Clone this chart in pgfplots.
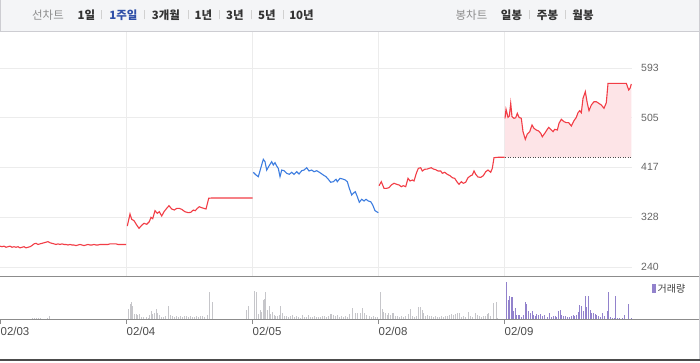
\documentclass[border=0pt]{standalone}
\usepackage{pgfplots}
\pgfplotsset{compat=1.18}
\usepackage{fontspec}
\setmainfont{Liberation Sans}
\newfontfamily\kr{Noto Sans CJK KR}
\definecolor{upred}{HTML}{F23D46}
\definecolor{dnblue}{HTML}{3D7DE0}
\definecolor{pinkfill}{HTML}{FDE4E7}
\definecolor{gridc}{HTML}{ECECEC}
\definecolor{volgray}{HTML}{C6C6CA}
\definecolor{volpur}{HTML}{9282CC}
\definecolor{barbg}{HTML}{F4F5F7}
\definecolor{barline}{HTML}{CDCDD2}
\definecolor{ticktxt}{HTML}{666666}
\definecolor{axline}{HTML}{8C8C8C}
\definecolor{selblue}{HTML}{2F4FA8}
\begin{document}
\begin{tikzpicture}[x=1bp,y=1bp]
\path[use as bounding box] (0,0) rectangle (700,362);
\fill[white] (0,0) rectangle (700,362);
% top bar
\fill[barbg] (0,331) rectangle (700,362);
\draw[barline] (0.5,362) -- (0.5,330.5) -- (699.5,330.5) -- (699.5,362);
\begin{scope}[every node/.style={inner sep=0pt, font=\kr\fontsize{11.5}{12}\selectfont}]
\node[text=gray!90] at (48,347) {선차트};
\node[text=black!80] at (86.5,347) {\bfseries 1일};
\node[text=selblue] at (123.5,347) {\bfseries 1주일};
\node[text=black!80] at (166,347) {\bfseries 3개월};
\node[text=black!80] at (203.5,347) {\bfseries 1년};
\node[text=black!80] at (235,347) {\bfseries 3년};
\node[text=black!80] at (267,347) {\bfseries 5년};
\node[text=black!80] at (301.5,347) {\bfseries 10년};
\node[text=gray!90] at (471.5,347) {봉차트};
\node[text=black!80] at (511.5,347) {\bfseries 일봉};
\node[text=black!80] at (547.5,347) {\bfseries 주봉};
\node[text=black!80] at (583,347) {\bfseries 월봉};
\end{scope}
\foreach \sx in {101,144,188,219,251,283,529,565}{\draw[black!18] (\sx,342.5) -- (\sx,351.5);}
% price axis
\begin{axis}[
  at={(0bp,86bp)}, anchor=south west, scale only axis,
  width=632bp, height=244bp,
  xmin=0, xmax=632, ymin=224.03, ymax=656.86,
  axis line style={draw=none},
  xtick={126,252,378,504}, xticklabels={},
  ytick={240,328,417,505,593},
  yticklabel pos=right,
  xmajorgrids, ymajorgrids,
  grid style={gridc, line width=0.8bp},
  major tick length=0pt,
  yticklabel style={anchor=west, inner sep=0pt, xshift=9bp, text=ticktxt, font=\fontsize{10.5}{11}\selectfont},
  /pgf/number format/assume math mode=true,
  clip=false,
]
% fill day 5
\addplot[fill=pinkfill, draw=none] coordinates {(504.7,434.6)(505,503.7)(506,519.7)(508,505.5)(509.3,507.9)(510.7,530.4)(512,506.6)(514,503.7)(515.7,504.8)(517.3,512.6)(519,505.5)(521.3,503.7)(523,480)(525.3,466.5)(527.3,475.9)(529.7,480)(532,491.9)(534,485.9)(536.3,483)(538.7,481.2)(540.7,477.1)(542.3,471.1)(544.7,477.1)(547.3,484.2)(548.7,487.7)(550.7,484.2)(553,480)(554.7,484.2)(557.3,483)(559,494.9)(561.3,502)(564,497.8)(566.3,496)(568.7,496)(571.3,490.1)(574,499.6)(576.3,505.5)(578,513.7)(579.7,517.3)(581.3,513.7)(583,539.2)(585.3,551)(587.3,530.4)(589,517.3)(591.3,527.4)(594,533.2)(596.3,533.2)(598.7,530.4)(601.3,527.4)(604,521.5)(606.3,531.5)(608,565.8)(626.3,565.8)(628.7,554)(630,557)(631.3,564.6)(631.3,434.6)} -- cycle;
% previous close dotted
\addplot[black!70, line width=0.8bp, dash pattern=on 1bp off 1.5bp] coordinates {(505,434.6)(632,434.6)};
% day 1
\addplot[upred, line width=1.1bp] coordinates {(0,277)(2,276)(4,277)(6,275)(8,276)(10,277)(12,275)(14,276)(16,275)(18,276)(20,274)(22,275)(24,276)(26,274)(28,275)(30,276)(32,278)(34,281)(36,282)(38,280)(40,281)(42,282)(44,283)(46,284)(48,285)(50,283)(52,282)(54,281)(56,280)(58,281)(60,280)(62,281)(64,280)(66,280)(68,279)(70,280)(72,279)(74,279)(76,278)(78,279)(80,280)(82,279)(84,278)(86,279)(88,280)(90,279)(92,279)(94,280)(96,279)(98,279)(100,280)(102,280)(104,280)(106,280)(108,280)(110,281)(112,281)(114,281)(116,281)(118,280)(120,280)(122,280)(124,280)(126,280)};
% day 2
\addplot[upred, line width=1.1bp] coordinates {(127.3,312.7)(130,334)(131.7,324.6)(134,322.2)(136.7,314.5)(139,308.6)(141.7,314)(144,317.5)(146.7,315.8)(149.3,320.4)(151,328.1)(152.7,325.7)(155,339.9)(157.3,335.2)(159.3,338)(161.7,330.5)(164,338)(166.7,344.1)(169,348.7)(171.7,342.9)(174.3,341.1)(176.7,344)(179.3,344)(181.7,342.3)(185,338)(188.3,336.4)(190.7,337)(193.3,341)(195.3,339.9)(197.3,344)(199.3,346.9)(201.7,345.2)(204,344)(206,342.9)(208.7,361.9)(211.7,362.4)(252.7,362.4)};
% day 3
\addplot[dnblue, line width=1.1bp] coordinates {(253.3,408)(256,403.2)(258.3,400.2)(260.7,415)(263.3,431)(265,426.8)(266.7,412)(269,419.2)(271.7,426.8)(273.3,420.9)(275,425)(276.7,419.2)(278.3,415)(280,400.2)(281.7,412)(284,410.8)(286.7,406.2)(289.3,404.4)(291.7,408)(294,404.4)(296.7,409)(299,405)(301.7,410.8)(304,412)(306.7,416.1)(309,410.3)(311.7,412)(314,409)(316.7,410.8)(320,407.3)(323.3,403.2)(326,400.2)(328.3,395.6)(330.7,390.3)(333.3,391.3)(336,395.6)(337.3,391.3)(340,397.3)(342.7,396.1)(345.3,394.3)(347.3,391.3)(349.3,379.6)(351.7,367.7)(353.3,370.7)(355.3,373.6)(357.3,364.8)(359.3,354.8)(361.7,360.1)(364,357.1)(366,360.1)(368.3,357.1)(370.7,355.8)(372.7,350)(375,339.9)(378.3,336.3)};
% day 4
\addplot[upred, line width=1.1bp] coordinates {(379,384.2)(381.3,391.3)(384,379.6)(386.7,379.6)(389,380.7)(391.3,385.5)(394,388.5)(396.7,386.7)(399,385.5)(401.3,382.5)(403.3,384.2)(405.7,382.5)(408,397.3)(410,392.6)(412.3,394.3)(414,392.6)(416.3,406.2)(418.3,415)(420.7,416.1)(422.3,410.3)(424.7,413.3)(427.3,413.8)(429,415)(431.3,416.1)(433.3,413.8)(435.7,412.6)(438,410.3)(440.7,410.3)(442.3,406.2)(444.7,408)(447.3,404.4)(450,402)(452.3,398.4)(454.7,397.3)(457.3,390.3)(459,386.7)(461.3,391.3)(463.3,388.5)(465.7,390.3)(468,398.4)(470.7,402)(472.3,403.2)(474,410.3)(475.7,404.4)(478,399.6)(480.7,399)(483.3,402)(485.7,409)(488,412)(490.7,408)(492.3,415)(494,433.9)(498,434.6)(504.7,434.6)};
% day 5
\addplot[upred, line width=1.1bp] coordinates {(505,503.7)(506,519.7)(508,505.5)(509.3,507.9)(510.7,530.4)(512,506.6)(514,503.7)(515.7,504.8)(517.3,512.6)(519,505.5)(521.3,503.7)(523,480)(525.3,466.5)(527.3,475.9)(529.7,480)(532,491.9)(534,485.9)(536.3,483)(538.7,481.2)(540.7,477.1)(542.3,471.1)(544.7,477.1)(547.3,484.2)(548.7,487.7)(550.7,484.2)(553,480)(554.7,484.2)(557.3,483)(559,494.9)(561.3,502)(564,497.8)(566.3,496)(568.7,496)(571.3,490.1)(574,499.6)(576.3,505.5)(578,513.7)(579.7,517.3)(581.3,513.7)(583,539.2)(585.3,551)(587.3,530.4)(589,517.3)(591.3,527.4)(594,533.2)(596.3,533.2)(598.7,530.4)(601.3,527.4)(604,521.5)(606.3,531.5)(608,565.8)(626.3,565.8)(628.7,554)(630,557)(631.3,564.6)};
\end{axis}
% volume axis
\begin{axis}[
  at={(0bp,43bp)}, anchor=south west, scale only axis,
  width=632bp, height=42bp,
  xmin=0, xmax=632, ymin=0, ymax=42,
  axis line style={draw=none},
  xtick={0,126,252,378,504},
  xticklabels={02/03,02/04,02/05,02/08,02/09},
  ytick=\empty,
  tick align=outside, xtick pos=bottom,
  major tick length=5bp,
  tick style={axline, line width=0.8bp},
  xticklabel style={anchor=north west, inner sep=0pt, xshift=0.5bp, yshift=-3bp, text=black!70, font=\fontsize{11.5}{12}\selectfont},
  clip=false,
]
\addplot[ycomb, volgray, line width=1bp, no marks] coordinates {(32,1)(34,1)(36,1)(38,1)(40,1)(47,1)(49,3)
(128,10)(130,15)(131,17)(132,13)(134,5)(136,5)(137,4)(139,5)(141,2)(143,2)(146,2)(148,1)(149,4)(151,8)(152,5)(154,6)(156,10)(157,6)(159,4)(161,2)(163,2)(165,3)(168,13)(170,4)(172,3)(174,2)(176,3)(178,2)(180,3)(182,2)(184,3)(186,3)(188,2)(190,3)(192,2)(194,2)(196,3)(198,2)(200,3)(202,3)(204,2)(207,4)(209,27)(212,17)(246,9)(248,13)
(254,28)(256,27)(258,5)(260,9)(261,7)(263,19)(264,20)(265,27)(267,9)(269,13)(270,5)(272,7)(274,4)(275,3)(277,3)(279,4)(280,13)(282,6)(284,3)(286,3)(288,2)(290,3)(292,4)(294,2)(296,3)(298,2)(300,1)(302,4)(304,2)(306,2)(308,4)(310,2)(312,2)(314,3)(316,2)(318,2)(320,2)(322,3)(324,3)(326,2)(328,3)(330,5)(331,5)(333,4)(335,3)(337,4)(339,2)(341,3)(343,2)(345,3)(347,2)(349,5)(352,11)(355,6)(357,6)(360,6)(362,11)(364,6)(366,4)(369,3)(371,2)(373,3)(375,2)(377,2)
(380,27)(382,10)(383,7)(385,6)(387,4)(388,6)(390,4)(392,6)(393,6)(395,3)(397,3)(399,2)(401,3)(403,2)(405,3)(408,5)(410,10)(412,3)(414,2)(416,3)(418,12)(420,12)(422,9)(423,6)(425,3)(427,4)(429,3)(431,3)(433,2)(435,3)(437,2)(439,2)(441,3)(443,2)(445,3)(447,3)(449,4)(451,5)(453,4)(455,5)(457,6)(459,6)(461,2)(463,3)(465,2)(468,7)(470,3)(472,2)(475,6)(477,4)(479,3)(481,2)(483,3)(485,3)(487,5)(488,6)(490,3)(493,16)(496,17)(497,1)};
\addplot[ycomb, volpur, line width=1bp, no marks] coordinates {(506,37)(508,19)(509,23)(511,22)(512,22)(513,8)(515,11)(516,4)(518,4)(519,4)(521,2)(523,4)(525,17)(526,15)(528,8)(530,6)(532,8)(533,4)(535,3)(536,5)(538,4)(540,5)(542,3)(544,4)(547,2)(549,6)(551,2)(553,3)(555,3)(556,2)(558,8)(560,9)(561,4)(563,3)(565,3)(567,2)(569,2)(571,3)(573,4)(574,3)(576,4)(578,7)(579,14)(581,13)(583,8)(585,23)(586,12)(588,23)(590,9)(591,6)(593,6)(595,5)(596,4)(598,3)(600,2)(602,6)(604,3)(607,8)(608,27)(610,2)(612,1)(614,1)(615,23)(617,1)(619,1)(622,1)(624,4)(628,15)(631,1)};
\end{axis}
% frame lines
\draw[axline, line width=0.8bp] (0,86) -- (700,86);
\draw[axline, line width=0.8bp] (0,43) -- (700,43);
\draw[black!70, line width=2bp] (0,2) -- (700,2);
\draw[barline, line width=0.8bp] (699.5,331) -- (699.5,3);
% volume legend
\fill[volpur] (652,69) rectangle (655.5,78);
\node[anchor=west, inner sep=0pt, text=black!75, font=\kr\fontsize{10}{11}\selectfont] at (657.5,73.5) {거래량};
\end{tikzpicture}
\end{document}
